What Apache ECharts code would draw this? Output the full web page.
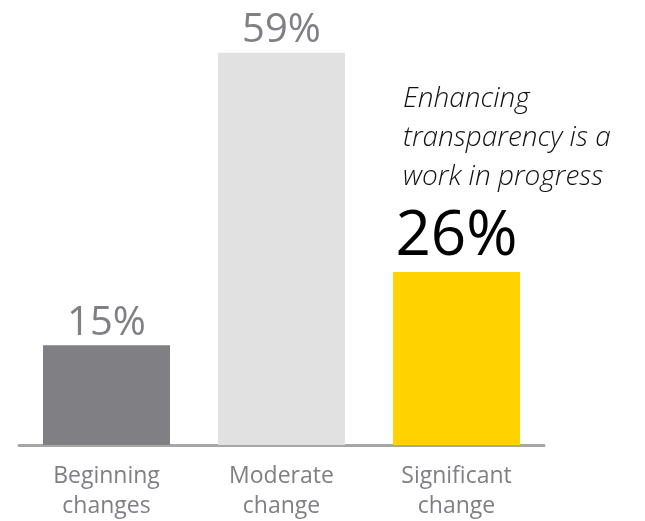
<!DOCTYPE html>
<html>
<head>
<meta charset="utf-8">
<script src="https://cdn.jsdelivr.net/npm/echarts@6/dist/echarts.min.js"></script>
<style>
  html, body { margin: 0; padding: 0; background: #fff; }
  #chart { width: 645px; height: 521px; }
</style>
</head>
<body>
<div id="chart"></div>
<script>
// Share of respondents by degree of change
const categories = ['Beginning\nchanges', 'Moderate\nchange', 'Significant\nchange'];
const values = [15, 59, 26];
const barColors = ['#7f7f84', '#e1e1e1', '#ffd200'];
const labelColors = ['#7f7f84', '#7f7f84', '#000000'];
const labelSizes = [40, 40, 62];
const noteLines = ['Enhancing', 'transparency is a', 'work in progress'];

const chart = echarts.init(document.getElementById('chart'));

const font = '"Open Sans", "Noto Sans", sans-serif';

chart.setOption({
  animation: false,
  grid: { left: 19, width: 525, top: 46, bottom: 74 },
  xAxis: {
    type: 'category',
    data: categories,
    axisLine: { show: true, lineStyle: { color: '#a6a6a6', width: 3 } },
    axisTick: { show: false },
    axisLabel: {
      color: '#7f7f84',
      fontSize: 23,
      fontFamily: font,
      lineHeight: 30,
      margin: 16
    }
  },
  yAxis: {
    type: 'value',
    min: 0,
    max: 60,
    show: false,
    splitLine: { show: false }
  },
  series: [{
    type: 'bar',
    barWidth: 127,
    z: 1,
    data: values.map((v, i) => ({
      value: v,
      itemStyle: { color: barColors[i] },
      label: {
        show: true,
        position: 'top',
        distance: i === 2 ? 4 : 2,
        formatter: '{c}%',
        color: labelColors[i],
        fontSize: labelSizes[i],
        fontFamily: font
      }
    }))
  }],
  graphic: [{
    type: 'text',
    left: 403,
    top: 80,
    style: {
      text: noteLines.join('\n'),
      fill: '#111',
      font: 'italic 300 28px ' + font,
      lineHeight: 39
    }
  }]
});
</script>
</body>
</html>
